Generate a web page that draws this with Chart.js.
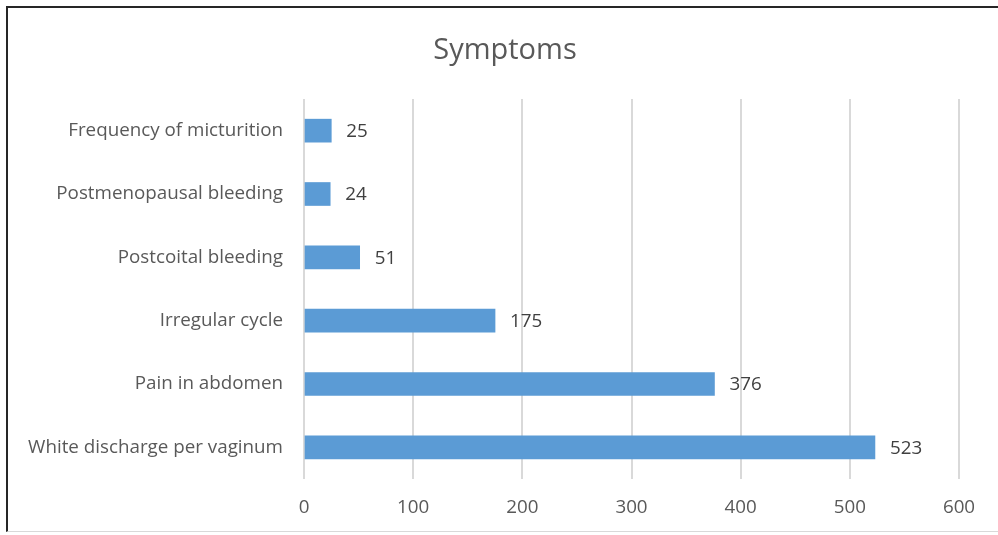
<!DOCTYPE html>
<html>
<head>
<meta charset="utf-8">
<script src="https://cdn.jsdelivr.net/npm/chart.js@4"></script>
<style>
  html, body { margin: 0; padding: 0; background: #fff; }
  #wrap { position: relative; width: 998px; height: 535px; }
  #frame {
    position: absolute; left: 6px; top: 6px; width: 992px; height: 526px;
    border-left: 2px solid #262626; border-top: 2px solid #262626;
    border-bottom: 1px solid #d9d9d9; box-sizing: border-box; pointer-events: none;
  }
  canvas { position: absolute; left: 0; top: 0; }
</style>
</head>
<body>
<div id="wrap">
  <canvas id="c" width="998" height="535"></canvas>
  <div id="frame"></div>
</div>
<script>
const categories = [
  'Frequency of micturition',
  'Postmenopausal bleeding',
  'Postcoital bleeding',
  'Irregular cycle',
  'Pain in abdomen',
  'White discharge per vaginum'
];
const counts = [25, 24, 51, 175, 376, 523];
const xTicks = [0, 100, 200, 300, 400, 500, 600];
const chartTitle = 'Symptoms';

const FONT = '"Open Sans", "Noto Sans", sans-serif';
const TEXT = '#595959';
const SIZE = 18.8;

// Writes each bar's value just past its end
const valueLabels = {
  id: 'valueLabels',
  afterDatasetsDraw(chart) {
    const ctx = chart.ctx;
    const meta = chart.getDatasetMeta(0);
    ctx.save();
    ctx.font = SIZE + 'px ' + FONT;
    ctx.fillStyle = '#404040';
    ctx.textAlign = 'left';
    ctx.textBaseline = 'middle';
    meta.data.forEach((bar, i) => {
      ctx.fillText(String(counts[i]), bar.x + 15, bar.y + 1);
    });
    ctx.restore();
  }
};

// Heading centred over the whole framed panel
const heading = {
  id: 'heading',
  afterDraw(chart) {
    const ctx = chart.ctx;
    ctx.save();
    ctx.font = '29px ' + FONT;
    ctx.fillStyle = TEXT;
    ctx.textAlign = 'center';
    ctx.textBaseline = 'middle';
    ctx.fillText(chartTitle, 505, 51);
    ctx.restore();
  }
};

new Chart(document.getElementById('c'), {
  type: 'bar',
  data: {
    labels: categories,
    datasets: [{
      data: counts,
      backgroundColor: '#5b9bd5',
      borderWidth: 0,
      barThickness: 23
    }]
  },
  options: {
    indexAxis: 'y',
    responsive: false,
    animation: false,
    layout: { padding: { left: 0, right: 39, top: 99, bottom: 0 } },
    plugins: {
      legend: { display: false },
      tooltip: { enabled: false },
      title: { display: false }
    },
    scales: {
      x: {
        min: 0,
        max: 600,
        afterBuildTicks(scale) { scale.ticks = xTicks.map(v => ({ value: v })); },
        afterFit(scale) { scale.height = 56; },
        grid: { color: '#d9d9d9', lineWidth: 2, drawTicks: false },
        border: { display: false },
        ticks: { color: TEXT, font: { family: FONT, size: SIZE }, padding: 17 }
      },
      y: {
        afterFit(scale) { scale.width = 304; },
        grid: { display: false, drawTicks: false },
        border: { display: false },
        ticks: { color: TEXT, font: { family: FONT, size: SIZE }, padding: 21 }
      }
    }
  },
  plugins: [valueLabels, heading]
});
</script>
</body>
</html>
